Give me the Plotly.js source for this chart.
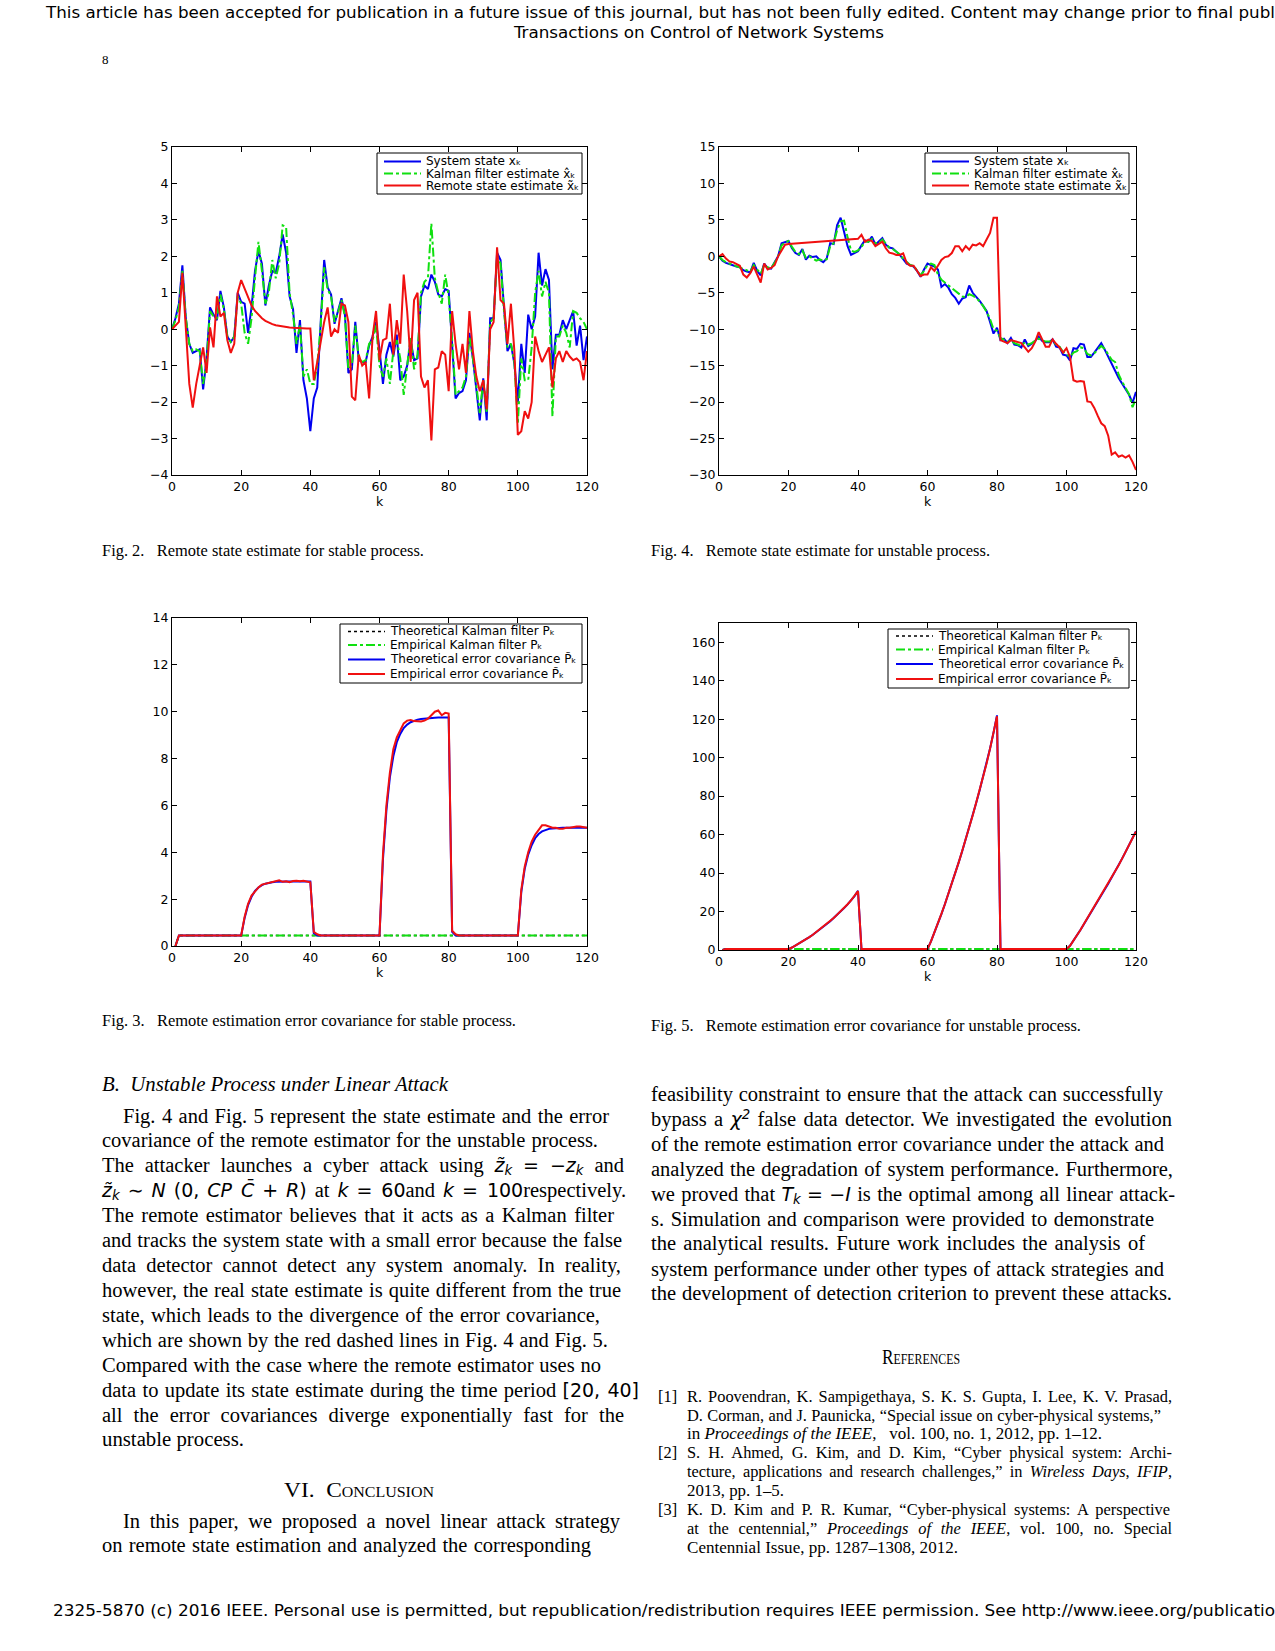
<!DOCTYPE html>
<html><head><meta charset="utf-8">
<script src="https://cdn.plot.ly/plotly-3.0.1.min.js"></script>
<style>
html,body{margin:0;padding:0;background:#fff;}
body{width:1275px;height:1651px;position:relative;overflow:hidden;}
.t{position:absolute;white-space:nowrap;color:#000;}
.hd{font-family:'DejaVu Sans Condensed','DejaVu Sans',sans-serif;font-size:16px;line-height:20px;}
.bd{font-family:'Liberation Serif','Times New Roman',serif;font-size:20.5px;line-height:25px;}
.sm{font-family:'Liberation Serif','Times New Roman',serif;font-size:16.4px;line-height:18px;}
.m{font-family:'DejaVu Sans',sans-serif;font-style:italic;font-size:19px;}
.mu{font-family:'DejaVu Sans',sans-serif;font-size:19px;}
.sc{font-variant:small-caps;}
sub,sup{font-size:0.7em;line-height:0;}
sub{vertical-align:-0.25em;}
sup{vertical-align:0.55em;}
.chart{position:absolute;}
</style></head><body>

<div class="t hd" style="left:46px;top:3px;" data-w="1229">This article has been accepted for publication in a future issue of this journal, but has not been fully edited. Content may change prior to final publ</div>
<div class="t hd" style="left:514px;top:23px;" data-w="370">Transactions on Control of Network Systems</div>
<div class="t sm" style="left:102px;top:51px;font-size:13px;">8</div>

<div id="c1" class="chart" style="left:100px;top:120px;width:520px;height:400px;"></div>
<div id="c2" class="chart" style="left:640px;top:120px;width:530px;height:400px;"></div>
<div id="c3" class="chart" style="left:100px;top:590px;width:520px;height:400px;"></div>
<div id="c4" class="chart" style="left:640px;top:595px;width:530px;height:400px;"></div>

<div class="t sm" style="left:102px;top:542px;" data-w="322">Fig. 2.&nbsp;&nbsp; Remote state estimate for stable process.</div>
<div class="t sm" style="left:651px;top:542px;" data-w="339">Fig. 4.&nbsp;&nbsp; Remote state estimate for unstable process.</div>
<div class="t sm" style="left:102px;top:1012px;" data-w="414">Fig. 3.&nbsp;&nbsp; Remote estimation error covariance for stable process.</div>
<div class="t sm" style="left:651px;top:1017px;" data-w="430">Fig. 5.&nbsp;&nbsp; Remote estimation error covariance for unstable process.</div>

<!-- left column -->
<div class="t bd" style="left:102px;top:1072px;font-style:italic;" data-w="346">B.&nbsp; Unstable Process under Linear Attack</div>
<div class="t bd" style="left:123px;top:1104px;" data-w="486" data-m="j">Fig. 4 and Fig. 5 represent the state estimate and the error</div>
<div class="t bd" style="left:102px;top:1128px;" data-w="496" data-m="j">covariance of the remote estimator for the unstable process.</div>
<div class="t bd" style="left:102px;top:1153px;" data-w="522" data-m="j">The attacker launches a cyber attack using <span class="m">z̃<sub>k</sub></span> <span class="mu">=</span> <span class="m">−z<sub>k</sub></span> and</div>
<div class="t bd" style="left:102px;top:1178px;" data-w="524" data-m="j"><span class="m">z̃<sub>k</sub></span> <span class="mu">∼</span> <span class="m">N</span> <span class="mu">(0,</span> <span class="m">CP C̄</span> <span class="mu">+</span> <span class="m">R</span><span class="mu">)</span> at <span class="m">k</span> <span class="mu">= 60</span>and <span class="m">k</span> <span class="mu">= 100</span>respectively.</div>
<div class="t bd" style="left:102px;top:1203px;" data-w="512" data-m="j">The remote estimator believes that it acts as a Kalman filter</div>
<div class="t bd" style="left:102px;top:1228px;" data-w="520" data-m="j">and tracks the system state with a small error because the false</div>
<div class="t bd" style="left:102px;top:1253px;" data-w="519" data-m="j">data detector cannot detect any system anomaly. In reality,</div>
<div class="t bd" style="left:102px;top:1278px;" data-w="519" data-m="j">however, the real state estimate is quite different from the true</div>
<div class="t bd" style="left:102px;top:1303px;" data-w="498" data-m="j">state, which leads to the divergence of the error covariance,</div>
<div class="t bd" style="left:102px;top:1328px;" data-w="506" data-m="j">which are shown by the red dashed lines in Fig. 4 and Fig. 5.</div>
<div class="t bd" style="left:102px;top:1353px;" data-w="499" data-m="j">Compared with the case where the remote estimator uses no</div>
<div class="t bd" style="left:102px;top:1378px;" data-w="537" data-m="j">data to update its state estimate during the time period <span class="mu">[20, 40]</span></div>
<div class="t bd" style="left:102px;top:1403px;" data-w="522" data-m="j">all the error covariances diverge exponentially fast for the</div>
<div class="t bd" style="left:102px;top:1427px;" data-w="142">unstable process.</div>
<div class="t bd" style="left:284px;top:1478px;" data-w="150">VI.&nbsp; <span class="sc">Conclusion</span></div>
<div class="t bd" style="left:123px;top:1509px;" data-w="497" data-m="j">In this paper, we proposed a novel linear attack strategy</div>
<div class="t bd" style="left:102px;top:1533px;" data-w="489" data-m="j">on remote state estimation and analyzed the corresponding</div>

<!-- right column -->
<div class="t bd" style="left:651px;top:1082px;" data-w="512" data-m="j">feasibility constraint to ensure that the attack can successfully</div>
<div class="t bd" style="left:651px;top:1107px;" data-w="521" data-m="j">bypass a <span class="m">χ<sup>2</sup></span> false data detector. We investigated the evolution</div>
<div class="t bd" style="left:651px;top:1132px;" data-w="513" data-m="j">of the remote estimation error covariance under the attack and</div>
<div class="t bd" style="left:651px;top:1157px;" data-w="522" data-m="j">analyzed the degradation of system performance. Furthermore,</div>
<div class="t bd" style="left:651px;top:1182px;" data-w="524" data-m="j">we proved that <span class="m">T<sub>k</sub></span> <span class="mu">=</span> <span class="m">−I</span> is the optimal among all linear attack-</div>
<div class="t bd" style="left:651px;top:1207px;" data-w="503" data-m="j">s. Simulation and comparison were provided to demonstrate</div>
<div class="t bd" style="left:651px;top:1231px;" data-w="494" data-m="j">the analytical results. Future work includes the analysis of</div>
<div class="t bd" style="left:651px;top:1257px;" data-w="513" data-m="j">system performance under other types of attack strategies and</div>
<div class="t bd" style="left:651px;top:1281px;" data-w="521" data-m="j">the development of detection criterion to prevent these attacks.</div>
<div class="t bd" style="left:882px;top:1345px;" data-w="78"><span class="sc">References</span></div>

<div class="t sm" style="left:658px;top:1388px;">[1]</div>
<div class="t sm" style="left:687px;top:1388px;" data-w="485" data-m="j">R. Poovendran, K. Sampigethaya, S. K. S. Gupta, I. Lee, K. V. Prasad,</div>
<div class="t sm" style="left:687px;top:1407px;" data-w="474" data-m="j">D. Corman, and J. Paunicka, “Special issue on cyber-physical systems,”</div>
<div class="t sm" style="left:687px;top:1425px;" data-w="415">in <i>Proceedings of the IEEE</i>,&nbsp;&nbsp; vol. 100, no. 1, 2012, pp. 1–12.</div>
<div class="t sm" style="left:658px;top:1444px;">[2]</div>
<div class="t sm" style="left:687px;top:1444px;" data-w="485" data-m="j">S. H. Ahmed, G. Kim, and D. Kim, “Cyber physical system: Archi-</div>
<div class="t sm" style="left:687px;top:1463px;" data-w="485" data-m="j">tecture, applications and research challenges,” in <i>Wireless Days</i>, <i>IFIP</i>,</div>
<div class="t sm" style="left:687px;top:1482px;" data-w="97">2013, pp. 1–5.</div>
<div class="t sm" style="left:658px;top:1501px;">[3]</div>
<div class="t sm" style="left:687px;top:1501px;" data-w="483" data-m="j">K. D. Kim and P. R. Kumar, “Cyber-physical systems: A perspective</div>
<div class="t sm" style="left:687px;top:1520px;" data-w="485" data-m="j">at the centennial,” <i>Proceedings of the IEEE</i>, vol. 100, no. Special</div>
<div class="t sm" style="left:687px;top:1539px;" data-w="271">Centennial Issue, pp. 1287–1308, 2012.</div>

<div class="t hd" style="left:53px;top:1601px;" data-w="1222">2325-5870 (c) 2016 IEEE. Personal use is permitted, but republication/redistribution requires IEEE permission. See http://www.ieee.org/publicatio</div>

<script>
// ---------- data ----------
const kState = Array.from({length:121}, (_, i) => i);   // k = 0..120
const kCov = Array.from({length:120}, (_, i) => i + 1); // k = 1..120
const kFlat = [1, 2, 120];

// Fig. 2 stable process
const stableState = [0,0.3,0.7,1.75,0.3,-0.4,-0.65,-0.6,-0.55,-1.65,
 -0.8,0.6,0.4,0.25,1.05,0.6,-0.2,-0.35,-0.2,1.0,
 0.75,0.7,-0.1,0.6,1.6,2.15,1.8,0.65,1.2,1.6,
 1.55,2.0,2.6,2.1,0.9,0.55,-0.65,0.25,-1.4,-1.9,
 -2.8,-1.9,-1.6,0.2,1.9,1.15,0.95,0.15,0.5,0.85,
 0.4,-1.2,-1.1,0.2,-0.85,-0.9,-0.9,-0.45,-0.2,0.2,
 -0.55,-1.5,-0.7,-0.35,-0.75,-0.15,-1.4,-1.3,-1.0,-0.3,
 -0.85,-0.8,0.9,1.2,1.1,1.5,1.3,0.95,0.9,1.1,
 1.05,-0.3,-1.9,-1.75,-1.7,-1.4,-0.1,-0.8,-1.6,-2.5,
 -1.35,-2.5,0.3,0.3,2.1,1.9,0.6,-0.6,-0.4,-0.95,
 -2.0,-0.4,-1.2,0.4,0.0,0.35,2.1,1.2,1.65,1.35,
 -1.1,-0.15,-0.15,0.25,0.0,0.25,0.5,-0.45,0.1,-0.85,-0.2];
const stableKalman = [0,0.25,0.6,1.6,0.3,-0.4,-0.6,-0.55,-0.6,-1.5,
 -0.9,0.5,0.35,0.3,0.95,0.55,-0.2,-0.35,-0.2,0.9,
 0.7,-0.1,-0.4,0.3,1.4,2.4,1.6,0.7,1.0,1.9,
 1.4,1.8,2.85,2.8,1.0,0.4,-0.4,0.1,-1.3,-1.1,
 -1.5,-1.5,-1.0,0.1,1.7,1.1,0.9,0.2,0.45,0.8,
 0.35,-1.1,-1.0,0.1,-0.8,-0.9,-0.85,-0.4,-0.3,0.1,
 -1.0,-1.3,-0.8,-1.5,-0.6,-0.3,-0.8,-1.8,-1.0,-0.2,
 -1.1,-0.7,1.0,1.3,1.4,2.9,1.4,1.0,0.7,1.5,
 0.9,-0.3,-1.8,-1.7,-1.6,-1.3,-0.2,-0.8,-1.5,-2.3,
 -1.4,-2.3,0.2,0.3,2.0,1.8,0.5,-0.5,-0.4,-0.9,
 -2.6,-0.8,-1.4,-1.4,-0.5,1.0,1.6,0.9,1.3,1.0,
 -2.4,-0.2,-0.2,0.1,-0.1,-0.5,0.5,0.45,0.3,0.2,0.0];
const stableRemote = [0,0.1,0.2,1.55,-0.1,-1.5,-2.15,-1.5,-1.0,-0.5,
 -1.2,0.05,-0.5,0.9,0.35,0.45,-0.3,-0.65,-0.4,1.0,
 1.35,1.1,0.85,0.65,0.5,0.4,0.3,0.23,0.18,0.14,
 0.11,0.09,0.07,0.06,0.05,0.04,0.03,0.03,0.02,0.02,
 0.02,-1.4,-0.9,-0.3,0.2,0.6,-0.2,0.0,-0.1,0.7,
 0.65,0.2,-1.85,-1.95,-0.7,-1.0,-0.9,-1.9,-0.2,0.5,
 -0.85,-0.3,-0.25,0.7,-0.7,0.25,-0.4,1.5,0.5,-0.9,
 0.8,1.0,-1.3,-1.6,-1.4,-3.05,-1.1,-1.05,-0.6,-0.7,
 -1.7,0.5,-0.4,-1.1,-0.4,-1.2,0.5,-0.6,-1.3,-1.7,
 -1.4,-2.2,0.0,0.2,2.25,0.8,0.7,-0.4,0.7,-0.6,
 -2.9,-2.8,-2.25,-2.45,-2.0,-0.2,-0.6,-0.9,-0.7,-0.5,
 -1.6,-0.8,-0.6,-0.9,-0.6,-0.75,-0.85,-0.8,-0.9,-1.4,-0.6];

// Fig. 4 unstable process
const unstableState = [0,-0.6,-0.9,-1.1,-1.2,-1.4,-1.5,-1.9,-2.1,-2.2,
 -0.9,-2.0,-2.6,-1.0,-1.6,-1.7,-0.8,0.0,1.8,2.0,
 2.1,1.1,0.45,0.2,1.0,-0.45,0.1,-0.1,0.0,-0.5,
 -0.8,-0.3,1.8,1.7,4.3,5.3,3.4,1.4,0.2,0.4,
 0.7,1.5,2.2,2.0,2.7,1.6,2.0,2.5,1.6,1.2,
 1.1,0.7,0.2,-0.4,-1.0,-1.2,-1.4,-2.0,-2.8,-1.8,
 -1.0,-1.2,-1.4,-1.8,-4.2,-3.8,-4.3,-5.2,-5.7,-6.5,
 -5.8,-5.6,-4.0,-5.0,-5.5,-6.1,-6.8,-7.5,-9.0,-10.6,
 -9.8,-11.5,-11.3,-11.9,-11.2,-12.1,-12.2,-12.5,-11.4,-12.3,
 -12.0,-11.6,-11.0,-11.6,-11.8,-11.8,-11.4,-12.4,-12.5,-13.5,
 -13.6,-14.3,-12.6,-12.7,-12.0,-12.1,-13.8,-13.8,-13.2,-12.6,
 -11.9,-12.8,-13.7,-14.8,-15.7,-16.7,-17.5,-18.2,-19.0,-20.1,-18.6];
const unstableKalman = [0,-0.5,-0.8,-1.0,-1.2,-1.3,-1.5,-1.8,-2.0,-2.1,
 -1.2,-1.8,-2.4,-1.2,-1.5,-1.6,-0.9,0.0,1.5,1.9,
 2.1,1.3,0.6,0.3,0.8,-0.2,0.0,-0.3,-0.6,-0.4,
 -0.6,-0.4,1.4,1.8,3.6,4.8,4.9,2.6,0.8,0.6,
 0.8,1.3,2.0,2.0,2.4,1.8,1.8,2.3,1.7,1.2,
 1.0,0.6,0.3,-0.3,-0.8,-1.2,-1.3,-2.0,-2.6,-2.0,
 -1.2,-1.0,-1.2,-2.5,-3.2,-3.6,-4.0,-4.3,-4.8,-5.2,
 -5.5,-5.6,-5.2,-5.4,-5.7,-6.2,-6.8,-7.6,-8.6,-10.0,
 -10.2,-11.2,-11.4,-11.7,-11.5,-11.9,-12.1,-12.3,-11.8,-12.1,
 -11.9,-11.6,-11.3,-11.5,-11.7,-11.7,-11.6,-12.1,-12.4,-13.1,
 -13.4,-13.8,-13.2,-13.0,-12.5,-12.6,-13.4,-13.6,-13.3,-12.8,
 -12.3,-12.7,-13.4,-14.2,-14.5,-16.2,-17.2,-18.0,-18.9,-20.7,-19.5];
const unstableRemote = [0,0.3,-0.3,-0.7,-0.8,-1.0,-1.3,-2.5,-2.9,-2.3,
 -1.4,-2.5,-3.6,-1.0,-1.8,-1.6,-1.2,0.0,0.9,1.6,
 1.7,null,null,null,null,null,null,null,null,null,
 null,null,null,null,null,null,null,null,null,null,
 2.4,2.95,2.0,2.3,2.1,1.4,1.7,2.0,1.1,0.5,
 0.4,0.2,0.2,0.4,-0.9,-1.3,-1.3,-2.0,-2.7,-2.5,
 -2.5,-1.5,-2.0,-1.3,-0.5,-0.1,0.0,0.45,1.4,1.4,
 0.7,1.4,0.9,1.6,1.5,1.8,1.4,2.3,3.2,5.3,
 5.3,-11.5,-11.7,-11.9,-11.5,-11.6,-11.7,-11.9,-12.5,-13.1,
 -12.6,-11.7,-10.4,-11.5,-12.4,-12.4,-11.4,-12.0,-12.5,-13.2,
 -12.6,-13.8,-17.0,-17.2,-17.1,-17.2,-19.9,-20.0,-20.8,-21.9,
 -22.9,-23.3,-24.6,-27.2,-26.9,-27.5,-27.3,-27.6,-27.3,-28.2,-29.3];

// Fig. 3 stable covariance (k = 1..120)
const stableKalmanTheory = [0, 0.45, 0.45];
const stableKalmanEmpirical = [0, 0.45, 0.45];
const stableCovTheory = [0,
 0.45,0.45,0.45,0.45,0.45,0.45,0.45,0.45,0.45,0.45,0.45,0.45,0.45,0.45,0.45,0.45,0.45,0.45,0.45,
 1.2,1.75,2.1,2.35,2.5,2.6,2.66,2.7,2.72,2.74,
 2.75,2.75,2.75,2.75,2.75,2.75,2.75,2.75,2.75,2.75,
 0.55,
 0.45,0.45,0.45,0.45,0.45,0.45,0.45,0.45,0.45,0.45,0.45,0.45,0.45,0.45,0.45,0.45,0.45,0.45,0.45,
 3.7,5.8,7.2,8.1,8.7,9.05,9.3,9.45,9.55,9.62,
 9.66,9.69,9.71,9.72,9.73,9.74,9.75,9.75,9.75,9.75,
 0.6,
 0.45,0.45,0.45,0.45,0.45,0.45,0.45,0.45,0.45,0.45,0.45,0.45,0.45,0.45,0.45,0.45,0.45,0.45,0.45,
 2.3,3.3,3.9,4.3,4.6,4.78,4.89,4.96,5.0,5.02,
 5.04,5.05,5.05,5.05,5.05,5.05,5.05,5.05,5.05,5.05];
const stableCovEmpirical = [0,
 0.45,0.45,0.45,0.45,0.45,0.45,0.45,0.45,0.45,0.45,0.45,0.45,0.45,0.45,0.45,0.45,0.45,0.45,0.45,
 1.25,1.8,2.15,2.35,2.5,2.62,2.65,2.68,2.72,2.75,
 2.8,2.74,2.76,2.72,2.77,2.78,2.76,2.78,2.76,2.72,
 0.6,0.5,
 0.45,0.45,0.45,0.45,0.45,0.45,0.45,0.45,0.45,0.45,0.45,0.45,0.45,0.45,0.45,0.45,0.45,0.45,
 3.9,6.0,7.4,8.4,8.9,9.2,9.5,9.62,9.65,9.6,
 9.6,9.58,9.62,9.7,9.85,10.0,10.05,9.85,9.95,9.92,
 0.65,0.5,
 0.45,0.45,0.45,0.45,0.45,0.45,0.45,0.45,0.45,0.45,0.45,0.45,0.45,0.45,0.45,0.45,0.45,0.45,
 2.4,3.4,4.0,4.45,4.75,4.95,5.15,5.15,5.1,5.05,
 5.05,5.0,5.0,5.05,5.05,5.08,5.1,5.1,5.08,5.05];

// Fig. 5 unstable covariance (k = 1..120)
const unstableKalmanTheory = [0, 0.5, 0.5];
const unstableKalmanEmpirical = [0, 0.5, 0.5];
const unstableCovTheory = [0,
 0.5,0.5,0.5,0.5,0.5,0.5,0.5,0.5,0.5,0.5,0.5,0.5,0.5,0.5,0.5,0.5,0.5,0.5,0.5,
 1.3,2.3,3.3,4.4,5.5,6.7,7.9,9.2,10.6,12.0,
 13.5,15.0,16.6,18.3,20.0,21.8,23.7,25.7,28.0,30.8,
 0.5,0.5,0.5,0.5,0.5,0.5,0.5,0.5,0.5,0.5,0.5,0.5,0.5,0.5,0.5,0.5,0.5,0.5,0.5,0.5,
 4.5,9.0,13.8,18.7,23.8,29.0,34.4,40.0,45.7,51.5,
 57.5,63.6,69.9,76.4,83.0,89.8,97.0,104.8,113.0,122.0,
 0.5,0.5,0.5,0.5,0.5,0.5,0.5,0.5,0.5,0.5,0.5,0.5,0.5,0.5,0.5,0.5,0.5,0.5,0.5,0.5,
 2.2,4.8,7.5,10.4,13.4,16.5,19.7,22.5,25.4,28.4,
 31.4,34.4,37.5,40.6,44.0,47.5,51.0,54.6,58.3,61.8];
const unstableCovEmpirical = [0,
 0.5,0.5,0.5,0.5,0.5,0.5,0.5,0.5,0.5,0.5,0.5,0.5,0.5,0.5,0.5,0.5,0.5,0.5,0.5,
 1.3,2.3,3.4,4.4,5.6,6.7,7.9,9.3,10.6,12.1,
 13.5,15.1,16.6,18.4,20.1,21.9,23.8,25.8,28.1,30.6,
 0.5,0.5,0.5,0.5,0.5,0.5,0.5,0.5,0.5,0.5,0.5,0.5,0.5,0.5,0.5,0.5,0.5,0.5,0.5,0.5,
 4.5,9.0,13.9,18.8,23.8,29.1,34.4,40.1,45.7,51.6,
 57.5,63.7,69.9,76.5,83.0,89.9,97.0,104.7,112.8,121.5,
 0.5,0.5,0.5,0.5,0.5,0.5,0.5,0.5,0.5,0.5,0.5,0.5,0.5,0.5,0.5,0.5,0.5,0.5,0.5,0.5,
 2.2,4.8,7.6,10.4,13.5,16.5,19.8,22.5,25.5,28.4,
 31.5,34.4,37.6,40.6,44.1,47.5,51.1,54.6,58.4,61.6];

// legend labels
const stateNames = ['System state x\u2096', 'Kalman filter estimate x\u0302\u2096', 'Remote state estimate x\u0303\u2096'];
const covNames = ['Theoretical Kalman filter P\u2096', 'Empirical Kalman filter P\u2096', 'Theoretical error covariance P\u0303\u2096', 'Empirical error covariance P\u0303\u2096'];

// ---------- styling ----------
const BLUE = '#0000f0', GREEN = '#10e010', RED = '#f01010', BLACK = '#000000';
const FONT = 'DejaVu Sans, sans-serif';
const TICKSIZE = 12.5, LEGSIZE = 12;

function axis(range, dtick, title) {
  const a = {
    range: range, tickmode: 'linear', tick0: 0, dtick: dtick,
    ticks: 'inside', ticklen: 5, tickwidth: 1, tickcolor: '#000',
    showline: true, linecolor: '#000', linewidth: 1, mirror: 'ticks',
    showgrid: false, zeroline: false, fixedrange: true, automargin: false,
    tickfont: {family: FONT, size: TICKSIZE, color: '#000'}
  };
  if (title) a.title = {text: title, font: {family: FONT, size: TICKSIZE, color: '#000'}, standoff: 2};
  return a;
}

// in-plot legend box (drawn as shapes + annotations, sized like the MATLAB legend)
function legendBox(g, box, sample, textX, rows, traces) {
  const X = px => (px - g.l) / g.w, Y = py => (g.b - py) / g.h;
  const shapes = [{type: 'rect', xref: 'paper', yref: 'paper', layer: 'above',
    x0: X(box[0]), x1: X(box[1]), y0: Y(box[3]), y1: Y(box[2]),
    fillcolor: '#ffffff', line: {color: '#000', width: 1}}];
  const annotations = [];
  traces.forEach((tr, i) => {
    shapes.push({type: 'line', xref: 'paper', yref: 'paper', layer: 'above',
      x0: X(sample[0]), x1: X(sample[1]), y0: Y(rows[i]), y1: Y(rows[i]),
      line: {color: tr.line.color, width: tr.line.width, dash: tr.line.dash || 'solid'}});
    annotations.push({xref: 'paper', yref: 'paper', x: X(textX), y: Y(rows[i]),
      xanchor: 'left', yanchor: 'middle', showarrow: false, text: tr.name,
      borderpad: 0, font: {family: FONT, size: LEGSIZE, color: '#000'}});
  });
  return {shapes, annotations};
}

function layout(w, h, m, yrange, ydtick, leg) {
  return {
    width: w, height: h, margin: m,
    paper_bgcolor: 'rgba(0,0,0,0)', plot_bgcolor: '#fff',
    showlegend: false,
    xaxis: axis([0, 120], 20, 'k'),
    yaxis: axis(yrange, ydtick),
    shapes: leg.shapes, annotations: leg.annotations
  };
}
const cfg = {staticPlot: true, displayModeBar: false};

function stateTraces(s, kf, r) {
  return [
    {x: kState, y: s, type: 'scatter', mode: 'lines', name: stateNames[0], line: {color: BLUE, width: 2}},
    {x: kState, y: kf, type: 'scatter', mode: 'lines', name: stateNames[1], line: {color: GREEN, width: 2, dash: 'dashdot'}},
    {x: kState, y: r, type: 'scatter', mode: 'lines', name: stateNames[2], line: {color: RED, width: 2}, connectgaps: true}
  ];
}
function covTraces(kt, ke, ct, ce) {
  return [
    {x: kFlat, y: kt, type: 'scatter', mode: 'lines', name: covNames[0], line: {color: BLACK, width: 1.5, dash: 'dot'}},
    {x: kFlat, y: ke, type: 'scatter', mode: 'lines', name: covNames[1], line: {color: GREEN, width: 2, dash: 'dashdot'}},
    {x: kCov, y: ct, type: 'scatter', mode: 'lines', name: covNames[2], line: {color: BLUE, width: 2}},
    {x: kCov, y: ce, type: 'scatter', mode: 'lines', name: covNames[3], line: {color: RED, width: 2}}
  ];
}

// plot-area geometry in page pixels (left, width, bottom, height)
const g1 = {l: 172, w: 415, b: 475, h: 328};
const g2 = {l: 719, w: 417, b: 475, h: 328};
const g3 = {l: 172, w: 415, b: 946, h: 328};
const g4 = {l: 719, w: 417, b: 950, h: 327};

const t1 = stateTraces(stableState, stableKalman, stableRemote);
const t2 = stateTraces(unstableState, unstableKalman, unstableRemote);
const t3 = covTraces(stableKalmanTheory, stableKalmanEmpirical, stableCovTheory, stableCovEmpirical);
const t4 = covTraces(unstableKalmanTheory, unstableKalmanEmpirical, unstableCovTheory, unstableCovEmpirical);

Plotly.newPlot('c1', t1, layout(520, 400, {l: 72, r: 33, t: 27, b: 45}, [-4, 5], 1,
  legendBox(g1, [377, 582, 153, 194], [384, 421], 425, [161.5, 173.5, 185.5], t1)), cfg);
Plotly.newPlot('c2', t2, layout(530, 400, {l: 79, r: 34, t: 27, b: 45}, [-30, 15], 5,
  legendBox(g2, [925, 1129, 153, 194], [932, 969], 973, [161.5, 173.5, 185.5], t2)), cfg);
Plotly.newPlot('c3', t3, layout(520, 400, {l: 72, r: 33, t: 28, b: 44}, [0, 14], 2,
  legendBox(g3, [340, 582, 624, 683], [348, 385], 389, [631.5, 645, 659.5, 674], t3)), cfg);
Plotly.newPlot('c4', t4, layout(530, 400, {l: 79, r: 34, t: 28, b: 45}, [0, 170], 20,
  legendBox(g4, [888, 1129, 629, 688], [896, 933], 937, [636, 649.5, 664, 679], t4)), cfg);

// ---------- text line fitting ----------
function fitLines() {
  document.querySelectorAll('[data-w]').forEach(el => {
    const w = parseFloat(el.dataset.w);
    const mode = el.dataset.m || 'f';
    el.style.display = 'inline-block';
    el.style.whiteSpace = 'nowrap';
    const nat = el.getBoundingClientRect().width;
    if (mode === 'j' && nat <= w) {
      el.style.display = 'block';
      el.style.width = w + 'px';
      el.style.whiteSpace = 'normal';
      el.style.textAlign = 'justify';
      el.style.textAlignLast = 'justify';
    } else if (nat > 0) {
      el.style.transformOrigin = '0 50%';
      el.style.transform = 'scaleX(' + (w / nat).toFixed(4) + ')';
    }
  });
}
if (document.fonts && document.fonts.ready) document.fonts.ready.then(fitLines); else fitLines();
</script>
</body></html>
